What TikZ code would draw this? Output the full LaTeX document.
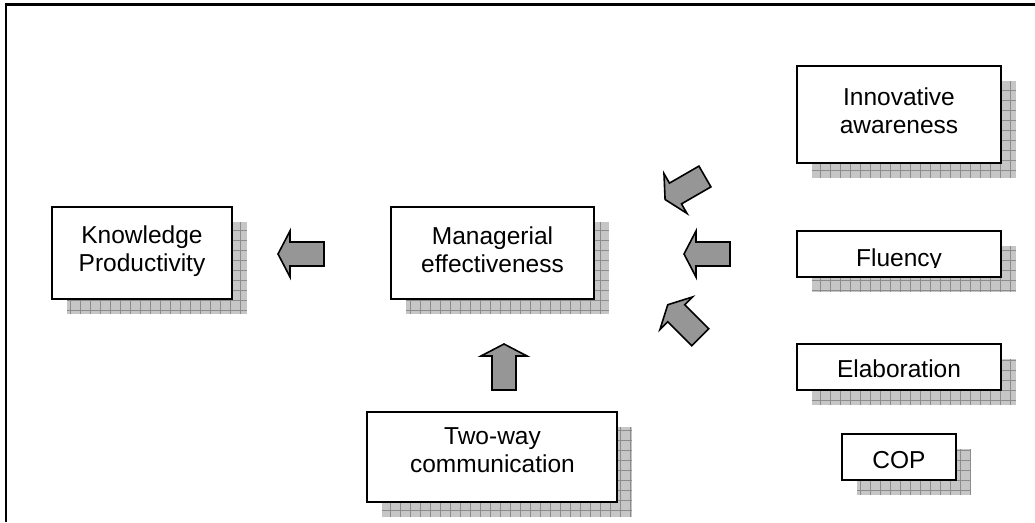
\documentclass[tikz,border=0pt]{standalone}
\usepackage{fontspec}
\setmainfont{Liberation Sans}
\usetikzlibrary{backgrounds}
\definecolor{arrowgray}{RGB}{150,150,150}
\definecolor{shadowfillc}{RGB}{198,198,198}
\definecolor{shadowgridc}{RGB}{140,140,140}
\newcommand\boxshadow[1]{%
  \begin{scope}
    \clip ([shift={(15,15)}]#1.north west) rectangle ([shift={(15,15)}]#1.south east);
    \fill[shadowfillc] ([shift={(15,15)}]#1.north west) rectangle ([shift={(15,15)}]#1.south east);
    \draw[shadowgrid] ([shift={(15,15)}]#1.north west) grid ([shift={(15,15)}]#1.south east);
  \end{scope}}
\newcommand\blockarrow[3]{%
  \draw[barrow, shift={(#1,#2)}, rotate=#3]
    (23,0) -- (11,23) -- (11,12) -- (-23,12) -- (-23,-12) -- (11,-12) -- (11,-23) -- cycle;}
\tikzset{
  box/.style={draw=black, line width=1.8pt, fill=white, inner sep=0pt, outer sep=0pt},
  txt/.style={inner sep=0pt, align=center, font=\fontsize{24.5}{28}\selectfont},
  barrow/.style={draw=black, line width=1.6pt, fill=arrowgray, line join=miter},
  shadowgrid/.style={draw=shadowgridc, line width=0.6pt, step=10pt},
  frameline/.style={draw=black, line width=2.2pt}
}
\begin{document}
\begin{tikzpicture}[x=1pt, y=-1pt]
\useasboundingbox (0,0) rectangle (1035,522);
% frame
\draw[frameline] (1035,4.5) -- (5.7,4.5) -- (5.7,522);
% boxes
\node[box, minimum width=180pt, minimum height=92pt] (kp) at (142,253) {};
\node[box, minimum width=203pt, minimum height=92pt] (me) at (492.5,253) {};
\node[box, minimum width=204pt, minimum height=97pt] (ia) at (899,114.5) {};
\node[box, minimum width=204pt, minimum height=46pt] (fl) at (899,254) {};
\node[box, minimum width=204pt, minimum height=46pt] (el) at (899,367) {};
\node[box, minimum width=114pt, minimum height=46pt] (cop) at (899,457) {};
\node[box, minimum width=250pt, minimum height=90pt] (tw) at (492,457) {};
% shadows
\begin{scope}[on background layer]
  \boxshadow{kp}
  \boxshadow{me}
  \boxshadow{ia}
  \boxshadow{fl}
  \boxshadow{el}
  \boxshadow{cop}
  \boxshadow{tw}
\end{scope}
% texts
\node[txt] (kpt) at (142,251) {Knowledge\\Productivity};
\node[txt] (met) at (492.5,250) {Managerial\\effectiveness};
\node[txt] (iat) at (899,111) {Innovative\\awareness};
\begin{scope}
  \clip (797,231) rectangle (1001,267.5);
  \node[txt, anchor=base] (flt) at (899,266) {Fluency};
\end{scope}
\node[txt, anchor=base] (elt) at (899,377) {Elaboration};
\node[txt, anchor=base] (copt) at (899,468) {COP};
\node[txt] (twt) at (492.5,450) {Two-way\\communication};
% block arrows
\blockarrow{301}{254}{180}
\blockarrow{707}{254}{180}
\blockarrow{504}{367}{90}
\blockarrow{685}{188}{210}
\blockarrow{684}{321}{135}
\end{tikzpicture}
\end{document}
